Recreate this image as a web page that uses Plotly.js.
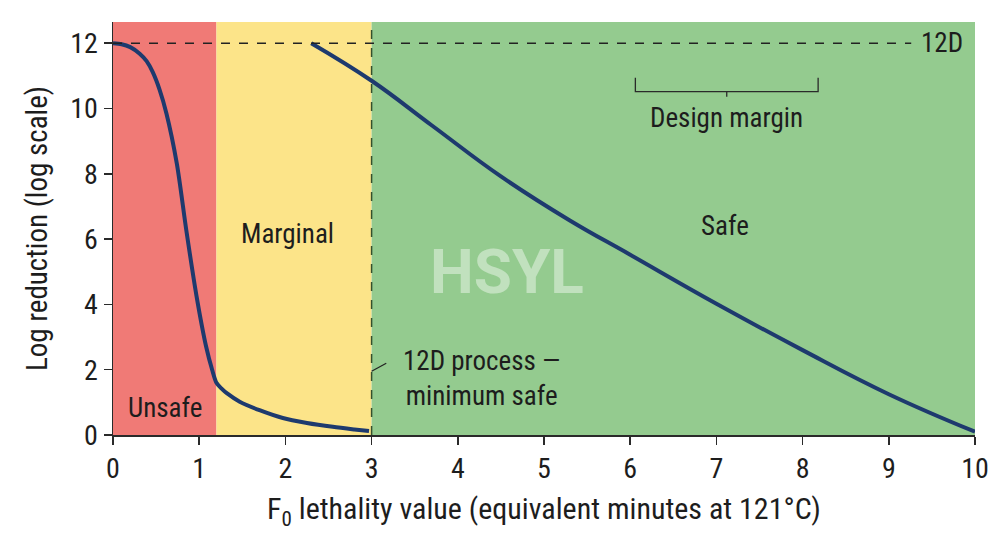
<!DOCTYPE html>
<html>
<head>
<meta charset="utf-8">
<script src="https://cdn.plot.ly/plotly-3.0.1.min.js"></script>
<style>
  html, body { margin: 0; padding: 0; background: #ffffff; }
  #chart { width: 1000px; height: 545px; }
</style>
</head>
<body>
<div id="chart"></div>
<script>
// Survival curves: log reduction against F0 lethality
const unsafeF0  = [0, 0.1, 0.2, 0.31, 0.39, 0.46, 0.54, 0.62, 0.74, 0.85, 0.97, 1.08, 1.15, 1.2, 1.26, 1.32, 1.47, 1.7, 1.97, 2.25, 2.55, 2.8, 2.97];
const unsafeLog = [12, 11.97, 11.88, 11.68, 11.45, 11.12, 10.58, 9.85, 8.32, 6.28, 4.24, 2.71, 2.0, 1.6, 1.42, 1.28, 1.02, 0.76, 0.52, 0.37, 0.25, 0.17, 0.12];

const safeF0  = [2.3, 3.0, 3.7, 4.5, 5.3, 6.0, 7.0, 8.0, 9.0, 10.0];
const safeLog = [12, 10.85, 9.48, 7.92, 6.57, 5.52, 4.02, 2.6, 1.25, 0.1];

// Process zones along the F0 axis
const zoneNames = ['Unsafe', 'Marginal', 'Safe'];
const zoneStart = [0, 1.2, 3];
const zoneEnd   = [1.2, 3, 10];
const zoneColors = ['#F07A76', '#FCE489', '#94CB8F'];

// Reference levels
const target12D = 12;
const minSafeF0 = 3;
const marginFrom = 6.06, marginTo = 8.18;

const xTicks = [0, 1, 2, 3, 4, 5, 6, 7, 8, 9, 10];
const yTicks = [0, 2, 4, 6, 8, 10, 12];

const FONT = '"Liberation Sans Narrow", "Roboto Condensed", Roboto, Arial, sans-serif';
const INK = '#1d1d1d';
const CURVE = '#1E3A6E';

const shapes = [];
zoneStart.forEach((s, i) => {
  shapes.push({type: 'rect', layer: 'below', xref: 'x', yref: 'paper',
    x0: s, x1: zoneEnd[i], y0: 0, y1: 1,
    fillcolor: zoneColors[i], line: {width: 0}});
});
// 12D target line
shapes.push({type: 'line', xref: 'x', yref: 'y', x0: 0, x1: 9.26, y0: target12D, y1: target12D,
  line: {color: '#222', width: 1.4, dash: 'dash'}});
// minimum safe process line
shapes.push({type: 'line', xref: 'x', yref: 'paper', x0: minSafeF0, x1: minSafeF0, y0: 0, y1: 1,
  line: {color: '#35502c', width: 1.5, dash: 'dash'}});
// leader to the 12D process label
shapes.push({type: 'line', xref: 'x', yref: 'y', x0: 3.0, x1: 3.17, y0: 1.95, y1: 2.2,
  line: {color: '#222', width: 1.2}});
// design margin bracket
const bTop = 10.94, bBase = 10.52, bTick = 10.36, bMid = (marginFrom + marginTo) / 2;
shapes.push({type: 'path', xref: 'x', yref: 'y',
  path: `M ${marginFrom} ${bTop} L ${marginFrom} ${bBase} L ${marginTo} ${bBase} L ${marginTo} ${bTop} M ${bMid} ${bBase} L ${bMid} ${bTick}`,
  line: {color: '#2a2a2a', width: 1.3}});

const LBL = 27;
const annotations = [
  {x: 0.6, y: 0.82, text: 'Unsafe', showarrow: false, font: {size: LBL, color: INK, family: FONT}},
  {x: 2.03, y: 6.15, text: 'Marginal', showarrow: false, font: {size: LBL, color: INK, family: FONT}},
  {x: 7.1, y: 6.4, text: 'Safe', showarrow: false, font: {size: LBL, color: INK, family: FONT}},
  {x: 9.62, y: target12D, text: '12D', showarrow: false, font: {size: LBL, color: INK, family: FONT}},
  {x: bMid, y: 9.72, text: 'Design margin', showarrow: false, font: {size: LBL, color: INK, family: FONT}},
  {x: 4.28, y: 1.72, text: '12D process —<br>minimum safe', showarrow: false, align: 'center',
    font: {size: LBL, color: INK, family: FONT}},
  {x: 4.57, y: 5.01, text: '<b>HSYL</b>', showarrow: false,
    font: {size: 62, color: 'rgba(255,255,255,0.42)', family: 'Roboto, "DejaVu Sans", sans-serif'}}
].map(a => Object.assign({xref: 'x', yref: 'y'}, a));

const traces = [
  {x: unsafeF0, y: unsafeLog, name: zoneNames[0], mode: 'lines',
    line: {color: CURVE, width: 4, shape: 'spline', smoothing: 0.8}, hoverinfo: 'x+y'},
  {x: safeF0, y: safeLog, name: zoneNames[2], mode: 'lines',
    line: {color: CURVE, width: 4, shape: 'spline', smoothing: 1.2}, hoverinfo: 'x+y'}
];

const axisCommon = {
  showgrid: false, zeroline: false, showline: true, linecolor: '#2a2a2a', linewidth: 1.5,
  ticks: 'outside', ticklen: 8, tickwidth: 1.5, tickcolor: '#2a2a2a',
  tickfont: {size: 28, color: INK, family: FONT}
};

const layout = {
  width: 1000, height: 545,
  margin: {l: 113, r: 25, t: 22, b: 110},
  paper_bgcolor: '#ffffff', plot_bgcolor: '#ffffff',
  showlegend: false,
  font: {family: FONT, color: INK},
  xaxis: Object.assign({}, axisCommon, {
    range: [0, 10], tickvals: xTicks, ticktext: xTicks.map(String),
    title: {text: 'F<sub>0</sub> lethality value (equivalent minutes at 121°C)', standoff: 14,
      font: {size: 30, color: INK, family: FONT}}
  }),
  yaxis: Object.assign({}, axisCommon, {
    range: [0, 12.65], tickvals: yTicks, ticktext: yTicks.map(String),
    title: {text: 'Log reduction (log scale)', standoff: 14,
      font: {size: 29, color: INK, family: FONT}}
  }),
  shapes: shapes,
  annotations: annotations
};

Plotly.newPlot('chart', traces, layout, {displayModeBar: false, staticPlot: true});
</script>
</body>
</html>
